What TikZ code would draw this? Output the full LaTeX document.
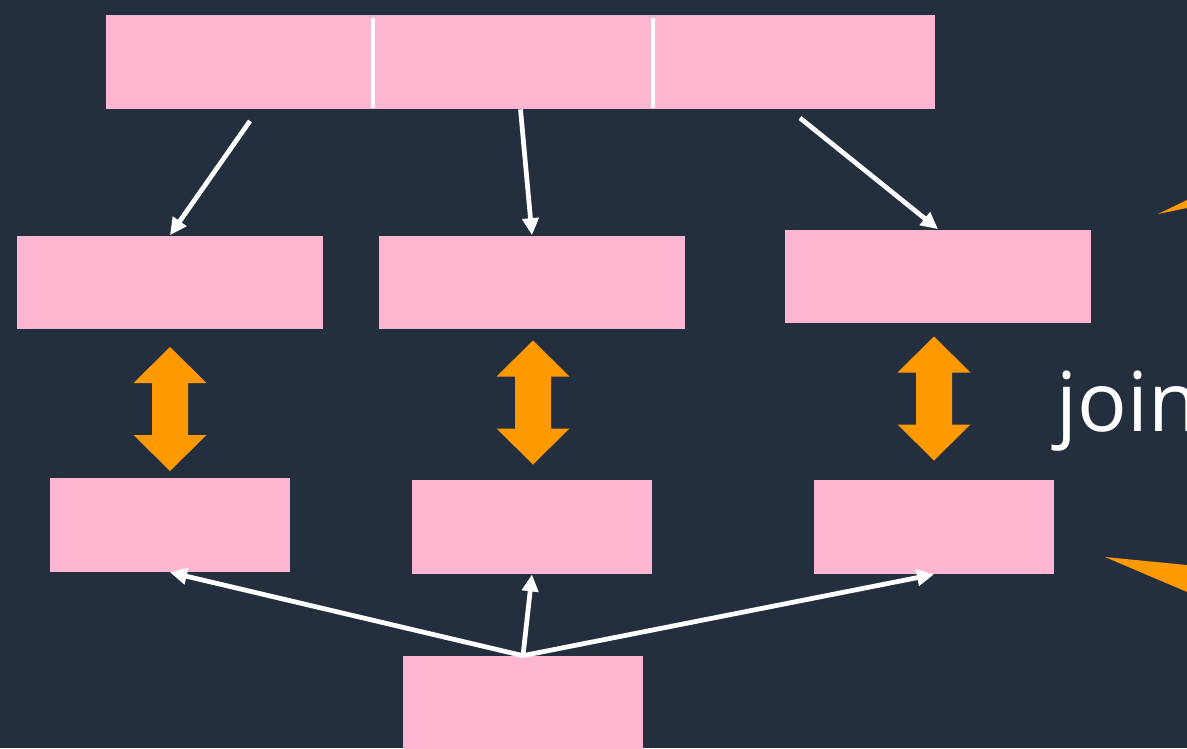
\documentclass[tikz,border=0pt]{standalone}
\usepackage{fontspec}
\setsansfont{Open Sans}
\usetikzlibrary{arrows.meta,calc}
\definecolor{navy}{HTML}{232F3E}
\definecolor{blush}{HTML}{FFB6D1}
\definecolor{amber}{HTML}{FF9900}

\begin{document}
\begin{tikzpicture}[
		x=0.02cm,
		y=-0.02cm,
		font=\sffamily,
		block/.style={
			fill=blush,
			inner sep=0pt,
			minimum width=6.12cm,
			minimum height=1.88cm
		},
		small/.style={
			block,
			minimum width=4.8cm
		},
		link/.style={
			-{Triangle[length=3.4mm,width=3.2mm]},
			draw=white,
			line width=2.7pt
		},
		divider/.style={
			draw=white,
			line width=2.1pt
		},
		twoway/.pic={
			\fill[amber] (0,-62) -- (36.5,-26) -- (18,-26) -- (18,26) -- (36.5,26)
				-- (0,62) -- (-36.5,26) -- (-18,26) -- (-18,-26) -- (-36.5,-26) -- cycle;
		}
	]
		\useasboundingbox (0,0) rectangle (1187,748);
		\fill[navy] (0,0) rectangle (1187,748);

		% stream on top, split in three
		\node[block,minimum width=16.58cm] (feed) at (520.5,62) {};
		\draw[divider] (373,18) -- (373,108);
		\draw[divider] (653,18) -- (653,108);

		\node[block] (m1) at (170,282.5) {};
		\node[block] (m2) at (532,282.5) {};
		\node[block] (m3) at (938,276.5) {};

		\node[small] (b1) at (170,525) {};
		\node[small] (b2) at (532,527) {};
		\node[small] (b3) at (934,527) {};

		\node[small] (src) at (523,703) {};

		\coordinate (s1) at (250,121);
		\coordinate (s3) at (800,118);
		\draw[link] (s1) -- (m1.north);
		\draw[link] (feed.south) -- (m2.north);
		\draw[link] (s3) -- (m3.north);

		\foreach \b in {b1,b2,b3}
			\draw[link] (src.north) -- (\b.south);

		\pic at (170,409) {twoway};
		\pic at (533,402.5) {twoway};
		\pic at (934,398.5) {twoway};

		% callout tails coming in from the right
		\fill[amber] (1158,214) -- (1200,193.7) -- (1200,205.3) -- cycle;
		\fill[amber] (1105,557) -- (1200,566.3) -- (1200,597.5) -- cycle;

		\node[anchor=base west,text=white,inner sep=0pt,font=\sffamily\fontsize{47}{50}\selectfont] (lbl) at (1056,431) {join};
	\end{tikzpicture}
\end{document}
